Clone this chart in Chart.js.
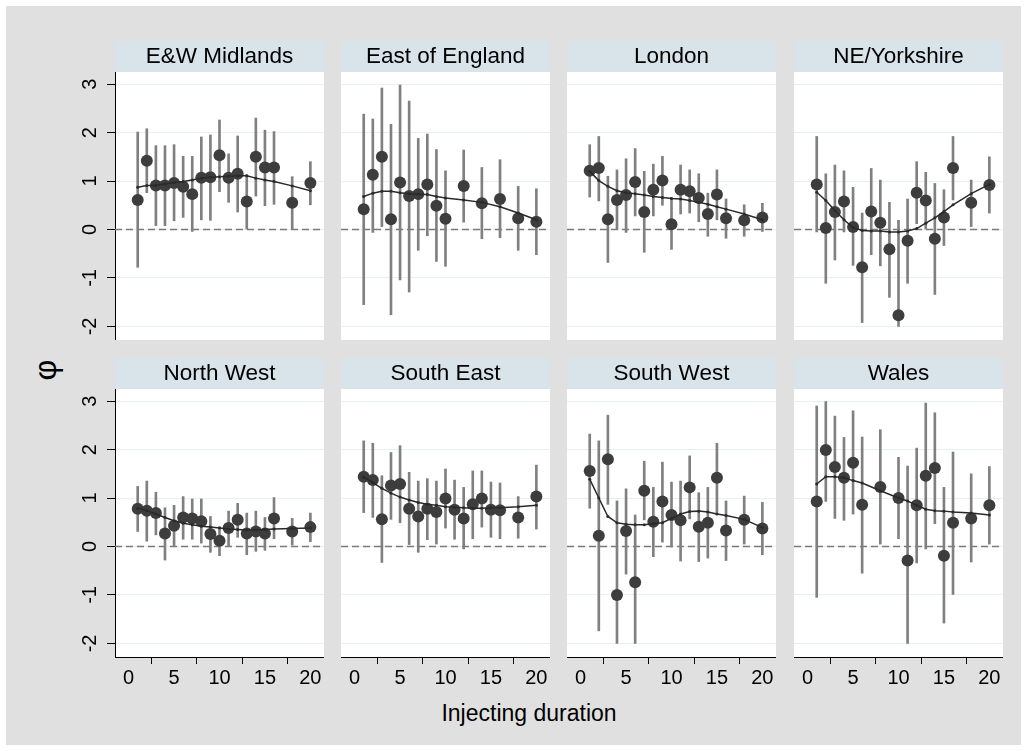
<!DOCTYPE html>
<html>
<head>
<meta charset="utf-8">
<script src="https://cdn.jsdelivr.net/npm/chart.js@4/dist/chart.umd.min.js"></script>
<style>
  body { margin: 0; background: #fff; }
  #graph { position: relative; width: 1027px; height: 751px; font-family: 'Liberation Sans', Arial, sans-serif; }
  #bg { position: absolute; left: 6px; top: 6px; width: 1015px; height: 739px; background: #e0e0e0; }
  canvas { position: absolute; }
  .title { position: absolute; color: #000; white-space: nowrap; line-height: 1; }
  #ytitle { left: 45px; top: 370px; font-size: 32px; transform: translate(-50%, -50%) rotate(-90deg); }
  #xtitle { left: 529px; top: 713px; font-size: 23px; transform: translate(-50%, -50%); }
</style>
</head>
<body>
<div id="graph">
  <div id="bg"></div>
  <div class="title" id="ytitle">φ</div>
  <div class="title" id="xtitle">Injecting duration</div>
</div>
<script>
// axis ticks
var xTicks = [0, 5, 10, 15, 20];
var yTicks = [-2, -1, 0, 1, 2, 3];

// injecting duration (years) at which phi was estimated
var durFull = [1, 2, 3, 4, 5, 6, 7, 8, 9, 10, 11, 12, 13, 14, 15, 16, 18, 20];
var durEast = [1, 2, 3, 4, 5, 6, 7, 8, 9, 10, 12, 14, 16, 18, 20];
var durWales = [1, 2, 3, 4, 5, 6, 8, 10, 11, 12, 13, 14, 15, 16, 18, 20];

var regions = ['E&W Midlands', 'East of England', 'London', 'NE/Yorkshire',
               'North West', 'South East', 'South West', 'Wales'];

// E&W Midlands
var ewmPhi = [0.61, 1.42, 0.91, 0.91, 0.96, 0.88, 0.73, 1.07, 1.08, 1.53, 1.07, 1.15, 0.58, 1.50, 1.28, 1.28, 0.55, 0.96];
var ewmLo  = [-0.78, 0.76, 0.08, 0.08, 0.18, 0.25, -0.04, 0.20, 0.19, 0.78, 0.56, 0.36, 0.01, 0.69, 0.49, 0.52, 0.01, 0.51];
var ewmHi  = [2.01, 2.08, 1.73, 1.73, 1.75, 1.51, 1.51, 1.91, 1.95, 2.26, 1.56, 1.93, 1.13, 2.30, 2.05, 2.02, 1.09, 1.40];
var ewmFit = [0.87, 0.91, 0.91, 0.94, 0.97, 0.99, 1.02, 1.06, 1.08, 1.09, 1.10, 1.11, 1.11, 1.06, 1.02, 0.99, 0.90, 0.80];

// East of England
var eoePhi = [0.42, 1.13, 1.50, 0.21, 0.97, 0.69, 0.73, 0.93, 0.49, 0.22, 0.90, 0.54, 0.63, 0.23, 0.16];
var eoeLo  = [-1.55, -0.06, 0.06, -1.76, -1.04, -1.29, -0.43, -0.13, -0.66, -0.76, 0.15, -0.19, -0.17, -0.43, -0.52];
var eoeHi  = [2.38, 2.28, 2.92, 2.17, 2.98, 2.65, 1.88, 1.97, 1.65, 1.21, 1.64, 1.28, 1.44, 0.89, 0.84];
var eoeFit = [0.68, 0.75, 0.79, 0.79, 0.76, 0.74, 0.73, 0.72, 0.68, 0.65, 0.61, 0.56, 0.47, 0.34, 0.20];

// London
var lonPhi = [1.21, 1.27, 0.21, 0.61, 0.71, 0.98, 0.36, 0.82, 1.01, 0.11, 0.82, 0.79, 0.65, 0.32, 0.72, 0.23, 0.19, 0.25];
var lonLo  = [0.67, 0.59, -0.68, 0.00, -0.06, 0.28, -0.47, 0.28, 0.50, -0.41, 0.32, 0.34, 0.16, -0.14, 0.20, -0.18, -0.14, -0.04];
var lonHi  = [1.75, 1.92, 1.10, 1.23, 1.46, 1.67, 1.20, 1.35, 1.51, 0.66, 1.33, 1.23, 1.15, 0.75, 1.23, 0.63, 0.51, 0.54];
var lonFit = [1.20, 1.01, 0.89, 0.80, 0.76, 0.74, 0.71, 0.68, 0.66, 0.64, 0.63, 0.60, 0.56, 0.52, 0.47, 0.42, 0.32, 0.20];

// NE/Yorkshire
var neyPhi = [0.93, 0.03, 0.36, 0.58, 0.05, -0.78, 0.37, 0.14, -0.41, -1.77, -0.23, 0.76, 0.60, -0.19, 0.25, 1.27, 0.55, 0.92];
var neyLo  = [-0.05, -1.11, -0.63, -0.05, -0.74, -1.92, -0.52, -0.75, -1.40, -2.00, -1.11, 0.12, 0.01, -1.34, -0.33, 0.61, 0.06, 0.34];
var neyHi  = [1.92, 1.15, 1.33, 1.21, 0.87, 0.34, 1.26, 1.02, 0.56, 0.19, 0.63, 1.40, 1.18, 0.95, 0.82, 1.92, 1.02, 1.50];
var neyFit = [0.77, 0.60, 0.39, 0.20, 0.04, -0.02, -0.03, -0.03, -0.05, -0.05, -0.03, 0.02, 0.13, 0.24, 0.37, 0.51, 0.74, 0.93];

// North West
var nwPhi = [0.78, 0.74, 0.69, 0.27, 0.43, 0.60, 0.58, 0.52, 0.26, 0.12, 0.38, 0.55, 0.27, 0.31, 0.27, 0.58, 0.31, 0.40];
var nwLo  = [0.31, 0.11, 0.24, -0.28, 0.01, 0.15, 0.15, 0.07, -0.12, -0.19, 0.00, 0.19, -0.17, -0.10, -0.08, 0.16, 0.03, 0.10];
var nwHi  = [1.24, 1.35, 1.12, 0.80, 0.85, 1.03, 0.98, 0.98, 0.62, 0.41, 0.73, 0.89, 0.69, 0.73, 0.60, 1.01, 0.58, 0.69];
var nwFit = [0.79, 0.74, 0.67, 0.60, 0.53, 0.48, 0.45, 0.42, 0.40, 0.38, 0.36, 0.35, 0.34, 0.34, 0.35, 0.36, 0.37, 0.38];

// South East
var sePhi = [1.44, 1.37, 0.56, 1.26, 1.29, 0.78, 0.62, 0.78, 0.71, 0.99, 0.76, 0.58, 0.87, 0.99, 0.76, 0.75, 0.60, 1.03];
var seLo  = [0.70, 0.60, -0.33, 0.56, 0.49, 0.04, -0.12, 0.14, 0.05, 0.38, 0.15, -0.05, 0.16, 0.40, 0.19, 0.16, 0.17, 0.36];
var seHi  = [2.18, 2.13, 1.46, 1.94, 2.08, 1.53, 1.35, 1.40, 1.35, 1.60, 1.37, 1.22, 1.56, 1.56, 1.33, 1.31, 1.03, 1.68];
var seFit = [1.43, 1.32, 1.20, 1.10, 1.02, 0.96, 0.91, 0.87, 0.85, 0.82, 0.81, 0.80, 0.79, 0.79, 0.80, 0.80, 0.82, 0.85];

// South West
var swPhi = [1.56, 0.22, 1.80, -1.00, 0.32, -0.74, 1.15, 0.51, 0.93, 0.65, 0.54, 1.22, 0.41, 0.49, 1.42, 0.33, 0.55, 0.37];
var swLo  = [0.79, -1.74, 0.87, -2.00, -0.57, -2.00, 0.55, -0.21, 0.09, -0.01, -0.30, 0.57, -0.31, -0.24, 0.70, -0.29, 0.05, -0.17];
var swHi  = [2.32, 2.18, 2.71, 0.94, 1.19, 0.65, 1.76, 1.22, 1.74, 1.33, 1.35, 1.87, 1.11, 1.22, 2.13, 0.94, 1.04, 0.91];
var swFit = [1.39, 1.00, 0.62, 0.49, 0.46, 0.45, 0.45, 0.47, 0.49, 0.58, 0.67, 0.72, 0.73, 0.71, 0.67, 0.64, 0.56, 0.39];

// Wales
var walPhi = [0.93, 1.99, 1.64, 1.42, 1.73, 0.86, 1.23, 1.00, -0.29, 0.85, 1.46, 1.62, -0.19, 0.49, 0.58, 0.85];
var walLo  = [-1.05, 0.93, 0.58, 0.54, 0.67, -0.55, 0.05, 0.16, -2.00, -0.34, -0.05, 0.47, -1.58, -0.99, -0.32, 0.05];
var walHi  = [2.90, 2.99, 2.69, 2.25, 2.80, 2.26, 2.41, 1.84, 1.66, 2.03, 2.96, 2.76, 1.22, 1.95, 1.50, 1.65];
var walFit = [1.29, 1.44, 1.44, 1.42, 1.36, 1.31, 1.15, 1.00, 0.94, 0.85, 0.77, 0.74, 0.73, 0.71, 0.69, 0.65];

var panels = [
  [durFull, ewmPhi, ewmLo, ewmHi, ewmFit],
  [durEast, eoePhi, eoeLo, eoeHi, eoeFit],
  [durFull, lonPhi, lonLo, lonHi, lonFit],
  [durFull, neyPhi, neyLo, neyHi, neyFit],
  [durFull, nwPhi, nwLo, nwHi, nwFit],
  [durFull, sePhi, seLo, seHi, seFit],
  [durFull, swPhi, swLo, swHi, swFit],
  [durWales, walPhi, walLo, walHi, walFit]
];

var xMin = -1.5, xMax = 21.5, yMin = -2.28, yMax = 3.25;

Chart.defaults.font.family = "'Liberation Sans', Arial, sans-serif";
Chart.defaults.color = '#000';

// white plot region and the blue strip behind each panel title
var panelBg = {
  id: 'panelBg',
  beforeDraw: function(chart) {
    var ctx = chart.ctx, a = chart.chartArea, t = chart.titleBlock;
    ctx.save();
    ctx.fillStyle = '#ffffff';
    ctx.fillRect(a.left, a.top, a.right - a.left, a.bottom - a.top);
    ctx.fillStyle = '#d8e4ea';
    ctx.fillRect(t.left, t.top, t.width, t.height);
    ctx.restore();
  }
};

function noPad(s) {
  s.paddingLeft = s.paddingRight = s.paddingTop = s.paddingBottom = 0;
}

var plotLeft = [115, 341, 567, 794];
var headerTop = [41, 358];
var plotW = 209, headH = 31, plotH = 268;

panels.forEach(function(p, i) {
  var r = Math.floor(i / 4), c = i % 4;
  var yAxisW = c === 0 ? 60 : 0;
  var xAxisH = r === 1 ? 40 : 0;

  var cv = document.createElement('canvas');
  cv.width = plotW + yAxisW;
  cv.height = headH + plotH + xAxisH;
  cv.style.left = (plotLeft[c] - yAxisW) + 'px';
  cv.style.top = headerTop[r] + 'px';
  document.getElementById('graph').appendChild(cv);

  var dur = p[0];
  var pts = dur.map(function(d, k) { return { x: d, y: p[1][k] }; });
  var bars = dur.map(function(d, k) { return { x: d, y: [p[2][k], p[3][k]] }; });
  var fit = dur.map(function(d, k) { return { x: d, y: p[4][k] }; });

  new Chart(cv, {
    type: 'line',
    data: {
      datasets: [
        { type: 'line', data: fit, borderColor: '#2a2a2a', backgroundColor: '#2a2a2a',
          borderWidth: 1.5, pointRadius: 1.5, pointBorderWidth: 0, tension: 0, order: 1 },
        { type: 'scatter', data: pts, backgroundColor: '#3d3d3d', borderWidth: 0,
          pointRadius: 6, order: 2 },
        { type: 'bar', data: bars, backgroundColor: '#808080', barThickness: 2, order: 3 },
        { type: 'line', data: [{ x: xMin, y: 0 }, { x: xMax, y: 0 }], borderColor: '#7a7a7a',
          borderWidth: 1.5, borderDash: [7, 4], pointRadius: 0, order: 4 }
      ]
    },
    options: {
      responsive: false,
      animation: false,
      events: [],
      layout: { padding: 0, autoPadding: false },
      plugins: {
        legend: { display: false },
        tooltip: { enabled: false },
        title: {
          display: true,
          text: regions[i],
          fullSize: false,
          color: '#000',
          padding: 0,
          font: { size: 22.5, weight: 'normal', lineHeight: headH / 22.5 }
        }
      },
      scales: {
        x: {
          type: 'linear', min: xMin, max: xMax, offset: false,
          display: r === 1,
          afterBuildTicks: function(s) { s.ticks = xTicks.map(function(v) { return { value: v }; }); },
          afterFit: function(s) { s.height = xAxisH; noPad(s); },
          grid: { drawOnChartArea: false, drawTicks: true, tickLength: 7, tickColor: '#000', tickWidth: 1 },
          border: { display: true, color: '#000', width: 1 },
          ticks: { color: '#000', font: { size: 20 }, padding: 2, maxRotation: 0, autoSkip: false }
        },
        y: {
          type: 'linear', min: yMin, max: yMax,
          afterBuildTicks: function(s) { s.ticks = yTicks.map(function(v) { return { value: v }; }); },
          afterFit: function(s) { s.width = yAxisW; noPad(s); },
          grid: { color: '#e8f0f2', lineWidth: 1, drawTicks: c === 0, tickLength: 8, tickColor: '#000', tickWidth: 1 },
          border: { display: c === 0, color: '#000', width: 1 },
          ticks: { display: c === 0, color: '#000', font: { size: 20 }, minRotation: 90, maxRotation: 90,
                   crossAlign: 'center', padding: 8, autoSkip: false }
        }
      }
    },
    plugins: [panelBg]
  });
});
</script>
</body>
</html>
